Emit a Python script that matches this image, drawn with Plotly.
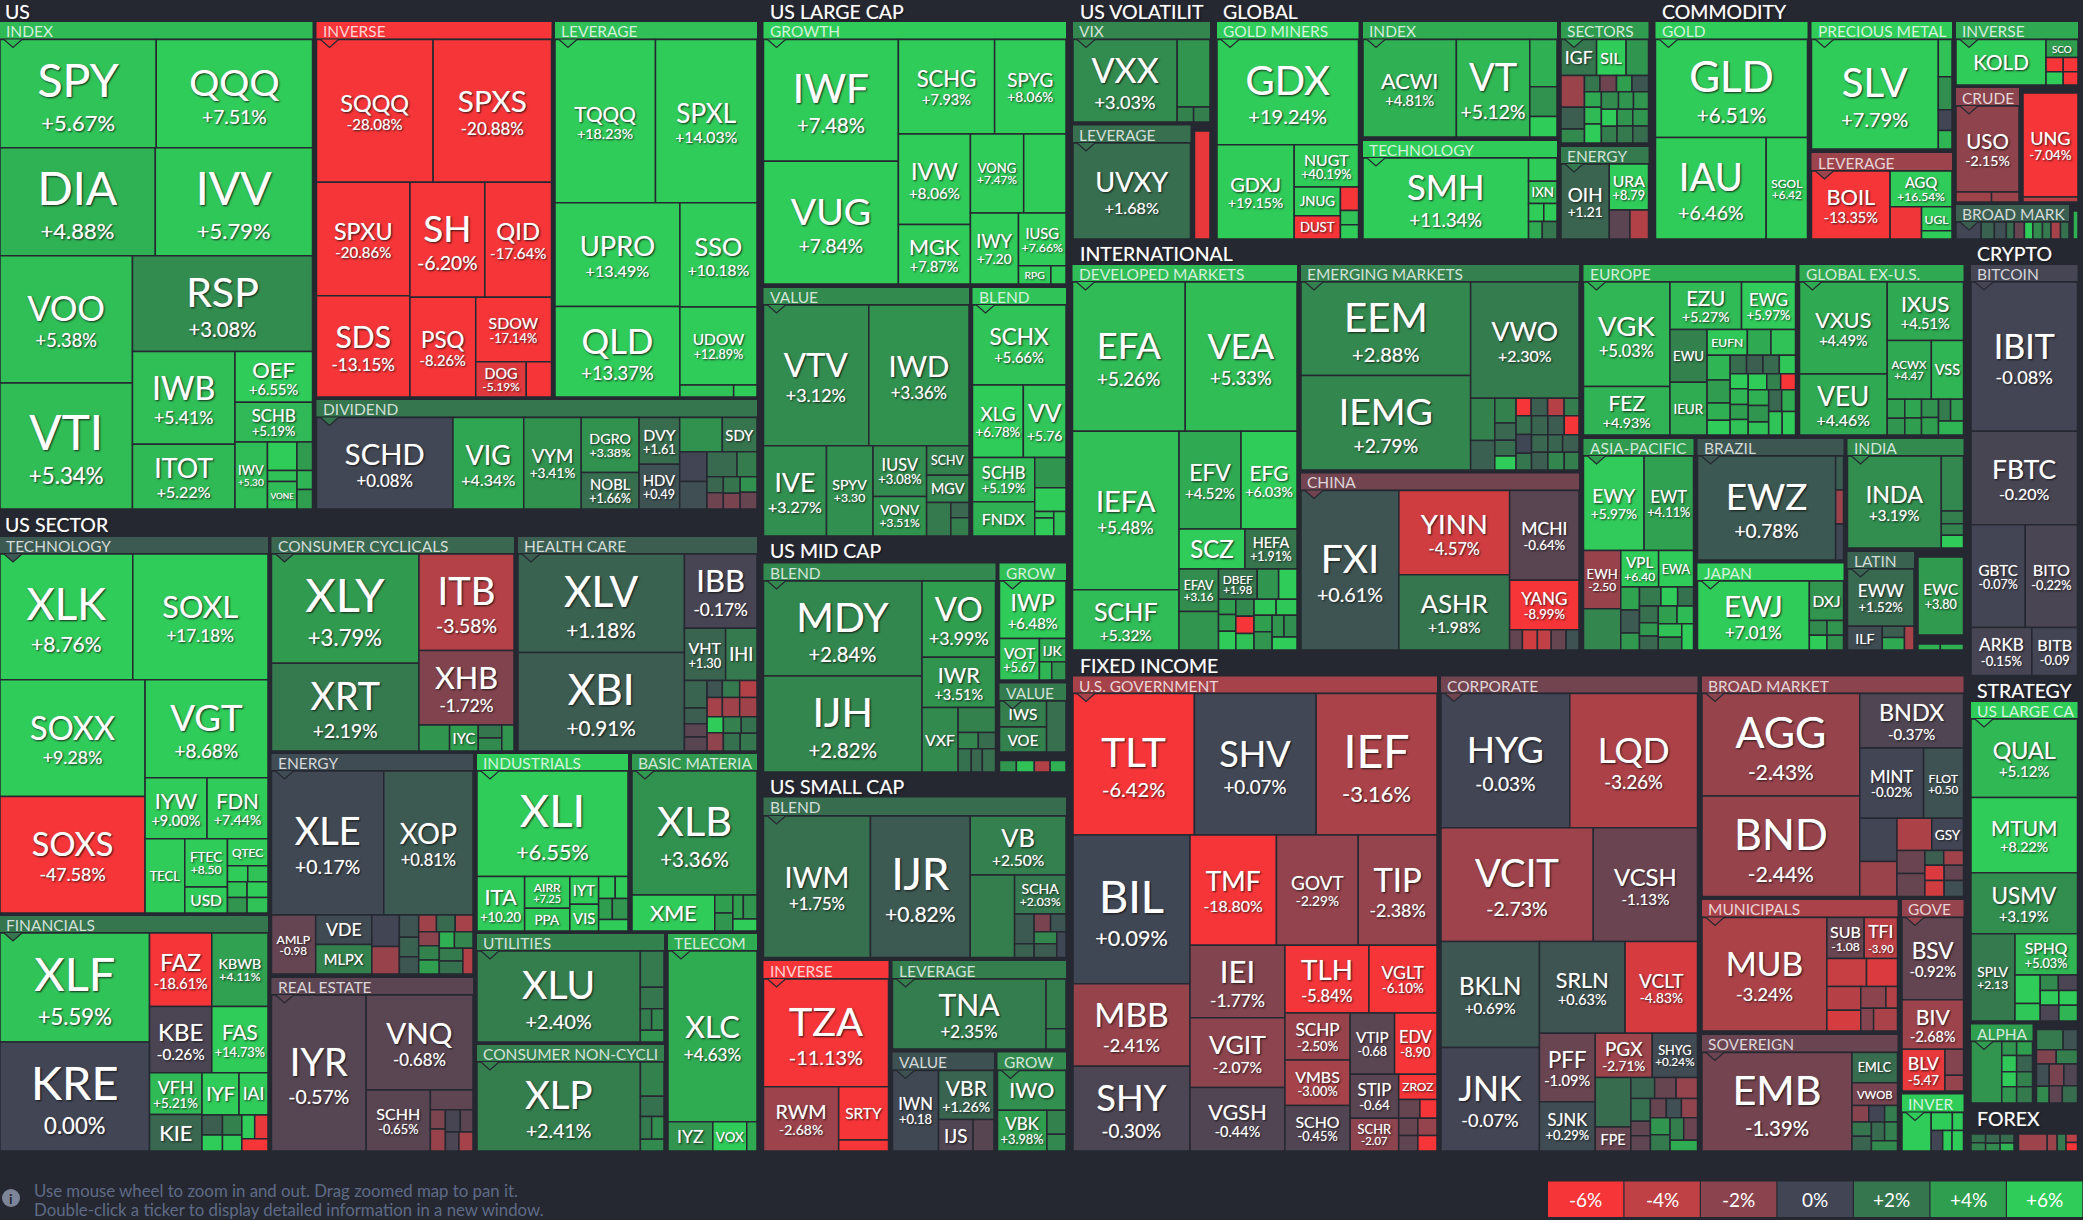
import plotly.graph_objects as go

W, H = 2083, 1220
BG = "#252831"
FONT = "Lato"
SCALE_STOPS = [(-6, "#f63538"), (-4, "#bf4045"), (-2, "#8b444e"), (0, "#414554"), (2, "#35764e"), (4, "#2f9e4f"), (6, "#30cc5a")]

# ---------- data: ticker, % change, tile size ----------
us_index_t = ["SPY","QQQ","DIA","IVV","VOO","VTI","RSP","IWB","ITOT","OEF","SCHB","IWV","","","","VONE","",""]
us_index_c = [5.67,7.51,4.88,5.79,5.38,5.34,3.08,5.41,5.22,6.55,5.19,5.30,6.6,3.8,5.5,5.3,5.0,4.0]
us_index_s = [16700,16700,16600,16800,16640,16500,17000,9400,6565,3900,3040,2150,830,440,320,800,290,300]
us_inverse_t = ["SQQQ","SPXS","SPXU","SDS","SH","QID","PSQ","SDOW","DOG",""]
us_inverse_c = [-28.08,-20.88,-20.86,-13.15,-6.20,-17.64,-8.26,-17.14,-5.19,-7]
us_inverse_s = [16350,16600,10400,9290,8440,7520,6435,4790,1750,875]
us_lev_t = ["TQQQ","SPXL","UPRO","QLD","SSO","UDOW","",""]
us_lev_c = [18.23,14.03,13.49,13.37,10.18,12.89,5.6,6]
us_lev_s = [16200,16360,12770,11160,7930,5930,636,276]
us_div_t = ["SCHD","VIG","VYM","DGRO","NOBL","DVY","HDV","","SDY","","","","","","","","","",""]
us_div_c = [0.08,4.34,3.41,3.38,1.66,1.61,0.49,3.4,1.9,0.0,0.4,1.5,2.3,1.4,-1.2,1.9,-1.5,3.4,-1.0]
us_div_s = [12100,6280,5100,3080,2050,1840,1760,1420,1155,783,730,720,480,256,256,272,256,256,272]

tech_t = ["XLK","SOXL","SOXX","SOXS","VGT","IYW","FDN","TECL","FTEC","USD","QTEC","","","","","",""]
tech_c = [8.76,17.18,9.28,-47.58,8.68,9.00,7.44,7,8.50,8.6,6,6,5.5,5.5,3.5,6,5.5]
tech_s = [16400,16700,16600,16600,11800,3720,3660,2890,2020,1090,1070,320,320,300,300,320,320]
cyc_t = ["XLY","XRT","ITB","XHB","","IYC","","",""]
cyc_c = [3.79,2.19,-3.58,-1.72,3.6,4.0,2.0,3.0,3.5]
cyc_s = [15800,12700,9000,6950,780,730,300,300,310]
health_t = ["XLV","XBI","IBB","VHT","IHI"] + [""]*16
health_c = [1.18,0.91,-0.17,1.30,2.2,1.3,1.0,-0.7,-0.6,0.6,2.2,-3.5,-3.0,-2.8,-2.8,6.5,-2.2,2.5,1.8,1.8,2.0]
health_s = [16000,16000,5250,2100,1600,610,350,290,310,255,290,290,285,323,323,255,290,290,255,290,290]
energy_t = ["XLE","XOP","AMLP","VDE","MLPX"] + [""]*16
energy_c = [0.17,0.81,-0.98,0.2,2.6,0.0,-2.5,0.6,1.2,0.7,-2.8,1.5,-3,-2.0,2.6,4.0,4.8,2.8,2.3,1.8,-3.5]
energy_s = [15600,12400,2520,1600,1600,837,730,418,361,323,288,304,288,280,280,280,240,294,294,294,252]
indus_t = ["XLI","ITA","AIRR","PPA","IYT","VIS","","","","",""]
indus_c = [6.55,10.20,7.25,5.9,6.0,6.3,6,6.2,4,3.5,6.5]
indus_s = [15550,2530,1400,1000,780,750,357,273,280,320,330]
basic_t = ["XLB","XME","","","","",""]
basic_c = [3.36,6.2,4,3.6,4,3.5,6.5]
basic_s = [15400,2960,324,324,250,325,288]
fin_t = ["XLF","KRE","FAZ","KBWB","KBE","FAS","VFH","KIE","IYF","IAI","","","","","","",""]
fin_c = [5.59,0.00,-18.61,4.11,-0.26,14.73,5.21,1.4,6,6.3,1.0,6,2.6,6.2,6.5,-5.5,-7]
fin_s = [15900,15900,4460,4030,4030,3640,2130,1870,1520,1190,400,320,380,300,300,310,310]
reit_t = ["IYR","VNQ","SCHH","","","","","","",""]
reit_c = [-0.57,-0.68,-0.65,-0.8,-1.6,-2.5,-0.2,-0.7,-0.3,-3]
reit_s = [14500,9950,3850,830,286,323,323,276,253,264]
util_t = ["XLU","","","","",""]
util_c = [2.40,2.2,2.0,2.3,2.8,3.5]
util_s = [14700,850,500,242,264,275]
cnc_t = ["XLP","","","","",""]
cnc_c = [2.41,2.6,1.8,2.2,3.2,3.0]
cnc_s = [14400,800,475,253,276,275]
telecom_t = ["XLC","IYZ","VOX",""]
telecom_c = [4.63,3.5,6,4.5]
telecom_s = [14700,1270,960,290]

growth_t = ["IWF","VUG","SCHG","SPYG","IVW","MGK","VONG","","IWY","IUSG","RPG",""]
growth_c = [7.48,7.84,7.93,8.06,8.06,7.87,7.47,7.4,7.20,7.66,7,7]
growth_s = [16100,16200,8900,6600,6400,4190,4130,3280,3340,2450,580,270]
value_t = ["VTV","IWD","IVE","SPYV","IUSV","VONV","SCHV","MGV","","",""]
value_c = [3.12,3.36,3.27,3.30,3.08,3.51,2.6,2.8,2.2,1.4,2.4]
value_s = [14460,13760,5550,4100,2650,2070,1220,1130,790,270,324]
blend_t = ["SCHX","XLG","VV","SCHB","FNDX","","","","",""]
blend_c = [5.66,6.78,5.76,5.19,4.8,3.6,6.5,5.5,6.5,5.5]
blend_s = [7300,3600,3020,2700,2080,930,720,120,336,294]

mid_blend_t = ["MDY","IJH","VO","IWR","VXF","","","","","",""]
mid_blend_c = [2.84,2.82,3.99,3.51,3.0,2.6,2.8,1.6,1.8,1.4,1.7]
mid_blend_s = [14760,14900,5480,3630,2275,912,320,272,300,253,300]
mid_grow_t = ["IWP","VOT","IJK","",""]
mid_grow_c = [6.48,5.67,4.5,5,3.5]
mid_grow_s = [3680,1600,600,216,250]
mid_value_t = ["IWS","VOE",""]
mid_value_c = [2.4,2.6,1.7]
mid_value_s = [1200,1150,970]
mid_other_t = ["","","",""]
mid_other_c = [3.6,5.5,-3.5,4.8]
mid_other_s = [176,187,165,165]

small_blend_t = ["IWM","IJR","VB","","SCHA","","","","","","",""]
small_blend_c = [1.75,0.82,2.50,2.4,2.03,0.8,1.2,-1.5,0.6,2.8,0.9,0.1]
small_blend_s = [14900,13900,5570,3600,1970,570,266,288,270,264,308,234]
small_inv_t = ["TZA","RWM","SRTY",""]
small_inv_c = [-11.13,-2.68,-8,-8]
small_inv_s = [13250,4740,2600,540]
small_lev_t = ["TNA","",""]
small_lev_c = [2.35,2.4,2.6]
small_lev_s = [10640,980,400]
small_value_t = ["IWN","VBR","IJS",""]
small_value_c = [0.18,1.26,-0.4,-0.6]
small_value_s = [3600,2640,1056,640]
small_grow_t = ["IWO","VBK","",""]
small_grow_c = [3.3,3.98,2.6,2.9]
small_grow_s = [2584,1920,437,304]

vix_t = ["VXX","","",""]
vix_c = [3.03,3.5,2.6,2.4]
vix_s = [8450,2180,240,240]
vol_lev_t = ["UVXY"]
vol_lev_c = [1.68]
vol_lev_s = [11200]
vol_other_t = [""]
vol_other_c = [-5.5]
vol_other_s = [1700]

miners_t = ["GDX","GDXJ","NUGT","JNUG","DUST","","",""]
miners_c = [19.24,19.15,40.19,30,-30,-6.5,5.5,6]
miners_s = [14600,7125,2665,1300,1050,414,252,252]
gl_index_t = ["ACWI","VT","","",""]
gl_index_c = [4.81,5.12,4.8,3.4,6.2]
gl_index_s = [8970,7050,1265,800,550]
gl_tech_t = ["SMH","","IXN","","","",""]
gl_tech_c = [11.34,6,5.5,6,6,4.5,2.0]
gl_tech_s = [13200,650,620,270,234,238,255]
gl_sect_t = ["IGF","SIL"] + [""]*20
gl_sect_c = [2.0,7,3.6,-2.6,1.0,3.0,2.0,-1.2,4,0.7,4.5,5.2,6.5,3.0,3.6,3.5,6,2.4,3.6,3.6,2.2,1.6]
gl_sect_s = [1155,957,726,672,462,294,225,240,225,240,238,255,289,272,238,238,238,238,238,238,240,240]
gl_energy_t = ["OIH","URA","",""]
gl_energy_c = [1.21,8.79,-0.7,-3.5]
gl_energy_s = [3525,1760,580,522]

gold_t = ["GLD","IAU","SGOL"]
gold_c = [6.51,6.46,6.42]
gold_s = [14750,11100,4140]
prec_t = ["SLV","","","",""]
prec_c = [7.79,5.5,3.2,0.0,5.0]
prec_s = [13750,504,448,280,252]
com_lev_t = ["BOIL","AGQ","","UGL",""]
com_lev_c = [-13.35,16.54,-5.8,13,6]
com_lev_s = [5236,2170,992,713,248]
com_inv_t = ["KOLD","SCO","","","",""]
com_inv_c = [12,4,-7,6,-7,-7]
com_inv_s = [4000,561,238,224,204,192]
crude_t = ["USO","",""]
crude_c = [-2.15,-2.8,-2.6]
crude_s = [5375,350,270]
ung_t = ["UNG",""]
ung_c = [-7.04,-3.8]
ung_s = [5610,275]
com_broad_t = [""]*10
com_broad_c = [0.0,1.2,0.4,1.6,-1,6,3,2.2,-3,1.8]
com_broad_s = [357,187,170,112,144,120,136,120,136,120]
com_sliver_t = [""]
com_sliver_c = [4.8]
com_sliver_s = [140]

dev_t = ["EFA","VEA","IEFA","SCHF","EFV","EFG","SCZ","HEFA","EFAV","","DBEF"] + [""]*15
dev_c = [5.26,5.33,5.48,5.32,4.52,6.03,6,1.91,3.16,3.5,1.98,3.6,6,4,4,6.3,3.0,-6,5.5,5.8,5.8,4.0,3.5,3.6,3.3,6]
dev_s = [16350,16200,16430,6240,5890,5320,2570,2030,1630,1480,1140,630,540,255,285,315,300,306,290,342,323,289,323,253,276,312]
emg_t = ["EEM","IEMG","VWO"] + [""]*22
emg_c = [2.88,2.79,2.30,2.6,1.1,2.6,1.4,1.6,6.6,-7,1.0,-3.6,2.3,1.7,0.1,2.0,1.3,0.9,-7,1.4,1.0,1.3,1.0,2.8,2.4]
emg_s = [15360,15530,12200,990,690,510,357,323,289,255,280,280,252,280,280,252,300,300,270,280,280,252,280,280,252]
china_t = ["FXI","YINN","ASHR","MCHI","YANG","","","","",""]
china_c = [0.61,-4.57,1.98,-0.64,-8.99,-0.9,-4.6,-4.0,-1.0,0.5]
china_s = [15260,9130,8140,6090,3360,252,294,273,294,252]
europe_t = ["VGK","FEZ","EZU","EWG","EWU","IEUR","EUFN"] + [""]*24
europe_c = [5.03,4.93,5.27,5.97,2.6,4.6,5.8,4.5,5.5,5,3.9,4.8,6.3,1.6,1.0,1.5,5.8,6.5,5.0,4.0,5.5,6,2.6,-7,4.8,3.6,5.5,1.4,4.6,5.6,6]
europe_s = [8550,3980,3210,2420,1855,1855,984,576,600,540,504,378,323,289,289,289,285,255,270,255,266,280,210,224,304,320,252,270,285,300,294]
exus_t = ["VXUS","VEU","IXUS","ACWX","VSS"] + [""]*9
exus_c = [4.49,4.46,4.51,4.47,5,4,3.6,4.3,4.0,3.4,4,2.3,3.9,5]
exus_s = [7800,5160,4310,2500,1820,323,285,304,276,299,289,255,272,338]
asia_t = ["EWY","EWT","EWH","","VPL","EWA"] + [""]*14
asia_c = [5.97,4.11,-2.50,2.8,6.40,6,4.2,0.8,3.7,2.2,6,1.8,1.7,3.7,1.4,4,5.2,5.5,2.6,6]
asia_s = [5520,4500,2090,1476,1330,1225,414,414,306,391,306,289,300,240,255,320,280,308,286,297]
brazil_t = ["EWZ","","",""]
brazil_c = [0.78,1.0,-2.6,0.1]
brazil_s = [14250,264,264,280]
japan_t = ["EWJ","DXJ","","","",""]
japan_c = [7.01,3.5,3.0,6.2,3.5,3.4]
japan_s = [7590,1330,255,255,238,238]
india_t = ["INDA","","","",""]
india_c = [3.19,2.9,2.4,2.6,6.2]
india_s = [8460,1196,276,253,276]
latin_t = ["EWW","ILF","","",""]
latin_c = [1.52,0.3,1.0,4.5,-3]
latin_s = [3630,792,242,264,216]
ewc_t = ["EWC"]
ewc_c = [3.80]
ewc_s = [3588]
latin_sliver_t = ["",""]
latin_sliver_c = [4.8,4.8]
latin_sliver_s = [130,135]

btc_t = ["IBIT","FBTC","GBTC","BITO","ARKB","BITB"]
btc_c = [-0.08,-0.20,-0.07,-0.22,-0.15,-0.09]
btc_s = [15700,9840,5500,5300,2880,2160]

gov_t = ["TLT","SHV","IEF","BIL","MBB","SHY","TMF","GOVT","TIP","IEI","VGIT","VGSH","TLH","VGLT","SCHP","VMBS","SCHO","VTIP","EDV","STIP","SCHR","ZROZ","","","","","",""]
gov_c = [-6.42,0.07,-3.16,0.09,-2.41,-0.30,-18.80,-2.29,-2.38,-1.77,-2.07,-0.44,-5.84,-6.10,-2.50,-3.00,-0.45,-0.68,-8.90,-0.64,-2.07,-7,-1.0,-7,-1,-0.8,-2.4,-7]
gov_s = [16700,16750,16620,16900,9390,9620,9240,8750,8420,6700,6420,5860,5540,4490,2980,2880,2880,2640,2520,2070,1550,936,390,315,320,288,320,288]
corp_t = ["HYG","LQD","VCIT","VCSH","BKLN","JNK","SRLN","VCLT","PFF","SJNK","PGX","SHYG","","FPE"] + [""]*14
corp_c = [-0.03,-3.26,-2.73,-1.13,0.69,-0.07,0.63,-4.83,-1.09,0.29,-2.71,0.24,1.6,-1,1.3,-1,-2.4,1.8,-0.8,-0.8,-1.0,0.4,-2.2,3.6,2.2,2.4,-1.1,4.6]
corp_s = [16640,16500,16640,11390,10040,9810,7570,6400,3670,2650,2420,1920,1700,820,480,432,432,432,270,288,297,283,300,320,308,294,297,283]
broad_t = ["AGG","BND","BNDX","MINT","FLOT","","","","GSY","","","","","","","",""]
broad_c = [-2.43,-2.44,-0.37,-0.02,0.50,0.0,-2.6,-3.3,0.0,-1.1,-1.0,1.0,-2.8,-5,-4.6,-0.9,0.4]
broad_s = [15650,15340,5460,4350,2720,1550,1260,1085,990,621,621,266,280,285,300,285,300]
muni_t = ["MUB","SUB","TFI","","","","","","","",""]
muni_c = [-3.24,-1.08,-3.90,-4.3,-5.0,-3.6,-4.8,-2.0,-3.5,-1.8,-3.2]
muni_s = [13560,1463,1309,1066,832,768,672,520,240,280,520]
sov_t = ["EMB","EMLC","VWOB","","","","","","","",""]
sov_c = [-1.39,1.6,-1.4,-1.9,0.0,2.3,2.0,1.3,1.5,2.5,3.0]
sov_s = [14450,1344,1008,272,256,208,272,280,243,238,260]
gove_t = ["BSV","BIV","BLV","",""]
gove_c = [-0.92,-2.68,-5.47,-1.8,-2.4]
gove_s = [4960,2976,1764,475,285]
inver_t = ["","","","","",""]
inver_c = [6.5,6.2,6.3,0.0,6.3,6.4]
inver_s = [1053,357,187,220,180,220]

strat_t = ["QUAL","MTUM","USMV","SPLV","SPHQ","","","","","","","",""]
strat_c = [5.12,8.22,3.19,2.13,5.03,6.3,5.8,3.0,-0.3,6,-0.3,6,5]
strat_s = [8130,7810,6310,3740,2520,696,432,270,285,270,285,270,285]
alpha_t = [""]*9
alpha_c = [3.5,3.6,4.0,5.8,1.2,6.0,2.6,3.6,2.2]
alpha_s = [1770,195,208,225,240,210,224,225,240]
strat_other_t = [""]*10
strat_other_c = [2.2,0.5,-1.7,2.4,0.4,3.0,-1.5,-0.4,-0.8,1.6]
strat_other_s = [494,266,260,280,260,195,294,273,208,240]
fx_a_t = [""]*6
fx_a_c = [1.8,2.6,1.4,3.0,1.6,5.0]
fx_a_s = [119,112,126,104,117,102]
fx_b_t = [""]*5
fx_b_c = [-2.7,-2.6,2.2,-3.7,-7]
fx_b_s = [442,153,136,88,88]

# tickers printed with a bare number, and tickers printed with no number at all
BARE_VALUE = ["IWV","DVY","HDV","FTEC","VHT","AMLP","ITA","AIRR","IWY","SPYV","VV","VOT","IWN","OIH","URA","SGOL",
              "EFAV","DBEF","ACWX","EWH","VPL","EWC","BITB","VTIP","EDV","STIP","SCHR","FLOT","SUB","TFI","BLV","SPLV"]
TICKER_ONLY = ["VONE","SDY","TECL","USD","QTEC","IYC","IHI","VDE","MLPX","PPA","IYT","VIS","XME","IYF","IAI","KIE","IYZ","VOX",
               "RPG","SCHV","MGV","FNDX","VXF","IJK","IWS","VOE","SRTY","IJS","IWO","JNUG","DUST","IXN","IGF","SIL","UGL","KOLD",
               "SCO","SCZ","EWU","IEUR","EUFN","VSS","EWA","DXJ","ILF","ZROZ","FPE","GSY","EMLC","VWOB"]

LEGEND_LABELS = ["-6%","-4%","-2%","0%","+2%","+4%","+6%"]
LEGEND_VALUES = [-6,-4,-2,0,2,4,6]

# ---------- layout tables (pixels of the page) ----------
TITLES = [("US",3,11.5),("US SECTOR",3,524),("US LARGE CAP",768,11.5),("US MID CAP",768,551),("US SMALL CAP",768,786),
          ("US VOLATILIT",1078,11.5),("GLOBAL",1221,11.5),("COMMODITY",1660,11.5),("INTERNATIONAL",1078,254),
          ("FIXED INCOME",1078,665.5),("CRYPTO",1975,254),("STRATEGY",1975,690.5),("FOREX",1975,1118)]

PANELS = [
 ("INDEX",0,22,312.5,509,39.5,5.2,us_index_t,us_index_c,us_index_s),
 ("INVERSE",316.5,22,551.5,397,39.5,-6.5,us_inverse_t,us_inverse_c,us_inverse_s),
 ("LEVERAGE",555,22,757,397,39.5,5.5,us_lev_t,us_lev_c,us_lev_s),
 ("DIVIDEND",316.5,400,757,509,417.5,2,us_div_t,us_div_c,us_div_s),
 ("TECHNOLOGY",0,537,268,913,554,0.8,tech_t,tech_c,tech_s),
 ("CONSUMER CYCLICALS",271.5,537,514,751,554,1.4,cyc_t,cyc_c,cyc_s),
 ("HEALTH CARE",518,537,757,751,554,1.0,health_t,health_c,health_s),
 ("ENERGY",271.5,754,473,974,771,0.3,energy_t,energy_c,energy_s),
 ("INDUSTRIALS",477,754,628,931,771,6,indus_t,indus_c,indus_s),
 ("BASIC MATERIA",632,754,757,931,771,3.7,basic_t,basic_c,basic_s),
 ("FINANCIALS",0,916,268,1151,933,2,fin_t,fin_c,fin_s),
 ("REAL ESTATE",271.5,978,473,1151,995,-0.7,reit_t,reit_c,reit_s),
 ("UTILITIES",477,934,664,1042,951,2.6,util_t,util_c,util_s),
 ("CONSUMER NON-CYCLI",477,1045,664,1151,1062,2.5,cnc_t,cnc_c,cnc_s),
 ("TELECOM",668,934,757,1151,951,4.6,telecom_t,telecom_c,telecom_s),
 ("GROWTH",763.5,22,1066,284,39.5,7,growth_t,growth_c,growth_s),
 ("VALUE",763.5,288,969,536,305,3,value_t,value_c,value_s),
 ("BLEND",972.5,288,1066,536,305,5.6,blend_t,blend_c,blend_s),
 ("BLEND",763.5,563.5,995.5,772,581,2.9,mid_blend_t,mid_blend_c,mid_blend_s),
 ("GROW",999.5,563.5,1066,680,581,5.5,mid_grow_t,mid_grow_c,mid_grow_s),
 ("VALUE",999.5,683.5,1066,752,701,2.3,mid_value_t,mid_value_c,mid_value_s),
 (None,999.5,760.5,1066,772,760.5,0,mid_other_t,mid_other_c,mid_other_s),
 ("BLEND",763.5,797.5,1066,957.5,816,1.6,small_blend_t,small_blend_c,small_blend_s),
 ("INVERSE",763.5,961,888.5,1151,979,-7,small_inv_t,small_inv_c,small_inv_s),
 ("LEVERAGE",892.5,961,1066,1049,979,2.4,small_lev_t,small_lev_c,small_lev_s),
 ("VALUE",892.5,1052.5,994,1151,1070.5,0.5,small_value_t,small_value_c,small_value_s),
 ("GROW",997.5,1052.5,1066,1151,1070.5,3,small_grow_t,small_grow_c,small_grow_s),
 ("VIX",1073,22,1210,122,39.5,2.8,vix_t,vix_c,vix_s),
 ("LEVERAGE",1073,125.5,1190.5,239,143,1.7,vol_lev_t,vol_lev_c,vol_lev_s),
 (None,1194.5,131,1210,239,131,0,vol_other_t,vol_other_c,vol_other_s),
 ("GOLD MINERS",1217,22,1358.5,239,39.5,7,miners_t,miners_c,miners_s),
 ("INDEX",1363,22,1557,137,39.5,4.6,gl_index_t,gl_index_c,gl_index_s),
 ("TECHNOLOGY",1363,141,1557,239,158,6.5,gl_tech_t,gl_tech_c,gl_tech_s),
 ("SECTORS",1561,22,1648.5,143,39.5,3.9,gl_sect_t,gl_sect_c,gl_sect_s),
 ("ENERGY",1561,147,1648.5,239,164,2.2,gl_energy_t,gl_energy_c,gl_energy_s),
 ("GOLD",1655.5,22,1807.5,239,39.5,6.5,gold_t,gold_c,gold_s),
 ("PRECIOUS METAL",1811.5,22,1952,149,39.5,7,prec_t,prec_c,prec_s),
 ("LEVERAGE",1811.5,153,1952,239,171,-2.7,com_lev_t,com_lev_c,com_lev_s),
 ("INVERSE",1956,22,2078,85,39.5,4.5,com_inv_t,com_inv_c,com_inv_s),
 ("CRUDE",1956,88,2019,202,106,-2.0,crude_t,crude_c,crude_s),
 (None,2023,93,2078,202,93,0,ung_t,ung_c,ung_s),
 ("BROAD MARK",1956,205,2069,239,222,1.0,com_broad_t,com_broad_c,com_broad_s),
 (None,2073,211,2078,239,211,0,com_sliver_t,com_sliver_c,com_sliver_s),
 ("DEVELOPED MARKETS",1072.5,265,1297,650,282,5.3,dev_t,dev_c,dev_s),
 ("EMERGING MARKETS",1301,265,1579,470,282,2.5,emg_t,emg_c,emg_s),
 ("CHINA",1301,473.5,1579,650,490.5,-1.3,china_t,china_c,china_s),
 ("EUROPE",1583.5,265,1795.5,435,282,4.8,europe_t,europe_c,europe_s),
 ("GLOBAL EX-U.S.",1799.5,265,1963.5,435,282,4.5,exus_t,exus_c,exus_s),
 ("ASIA-PACIFIC",1583.5,439,1693.5,650,456,3.8,asia_t,asia_c,asia_s),
 ("BRAZIL",1697.5,439,1843.5,560,456,0.7,brazil_t,brazil_c,brazil_s),
 ("JAPAN",1697.5,563.5,1843.5,650,581,6.8,japan_t,japan_c,japan_s),
 ("INDIA",1847.5,439,1963.5,548,456,3,india_t,india_c,india_s),
 ("LATIN",1847.5,552,1914,650,569,1.2,latin_t,latin_c,latin_s),
 (None,1918,557,1963.5,635,557,0,ewc_t,ewc_c,ewc_s),
 (None,1918,644,1963.5,650,644,0,latin_sliver_t,latin_sliver_c,latin_sliver_s),
 ("BITCOIN",1971,265,2077.5,675.5,282,-0.1,btc_t,btc_c,btc_s),
 ("U.S. GOVERNMENT",1073,676.5,1437,1151,693.5,-3,gov_t,gov_c,gov_s),
 ("CORPORATE",1441,676.5,1697.5,1151,693.5,-1.3,corp_t,corp_c,corp_s),
 ("BROAD MARKET",1702,676.5,1963.5,896.5,693.5,-2,broad_t,broad_c,broad_s),
 ("MUNICIPALS",1702,900,1897.5,1031,917.5,-3.2,muni_t,muni_c,muni_s),
 ("SOVEREIGN",1702,1035,1897.5,1151,1052.5,-1.1,sov_t,sov_c,sov_s),
 ("GOVE",1902,900,1963.5,1091,917.5,-2.4,gove_t,gove_c,gove_s),
 ("INVER",1902,1094.5,1963.5,1151,1112.5,6.5,inver_t,inver_c,inver_s),
 ("US LARGE CA",1971,702,2077.5,1021,719,6,strat_t,strat_c,strat_s),
 ("ALPHA",1971,1024.5,2032.5,1103,1041.5,4,alpha_t,alpha_c,alpha_s),
 (None,2036.5,1029.5,2077.5,1103,1029.5,0,strat_other_t,strat_other_c,strat_other_s),
 (None,1971,1134,2014,1151,1134,0,fx_a_t,fx_a_c,fx_a_s),
 (None,2018.5,1134,2077.5,1151,1134,0,fx_b_t,fx_b_c,fx_b_s),
]

# ---------- helpers ----------
def hex2rgb(h):
    return tuple(int(h[i:i+2], 16) for i in (1, 3, 5))

def color_of(v):
    v = max(-6, min(6, v))
    for (a, ca), (b, cb) in zip(SCALE_STOPS, SCALE_STOPS[1:]):
        if v <= b:
            t = (v - a) / (b - a)
            ra, rb = hex2rgb(ca), hex2rgb(cb)
            return "rgb(%d,%d,%d)" % tuple(round(x + (y - x) * t) for x, y in zip(ra, rb))
    return SCALE_STOPS[-1][1]

COLORSCALE = [[(v + 6) / 12, c] for v, c in SCALE_STOPS]

def tile_dims(values, dx, dy):
    """Tile widths/heights the treemap will produce; used only to pick a font size."""
    out, value, i0, n = [], float(sum(values)), 0, len(values)
    while i0 < n:
        s = mn = mx = values[i0]
        i1 = i0 + 1
        alpha = max(dy / dx, dx / dy) / value
        beta = s * s * alpha
        best = max(mx / beta, beta / mn)
        while i1 < n:
            v = values[i1]
            mn, mx = min(mn, v), max(mx, v)
            beta = (s + v) ** 2 * alpha
            r = max(mx / beta, beta / mn)
            if r > best:
                break
            s += v
            best = r
            i1 += 1
        if dx < dy:
            h = dy * s / value
            out += [(dx * v / s, h) for v in values[i0:i1]]
            dy -= h
        else:
            w = dx * s / value
            out += [(w, dy * v / s) for v in values[i0:i1]]
            dx -= w
        value -= s
        i0 = i1
    return out

EM = {"I": .36, "J": .46, "M": .9, "W": 1.0, "O": .8, "Q": .8, "G": .72, "D": .75, "V": .68, "A": .68, "C": .66, "H": .74, "N": .74, "U": .72}

def tile_text(tk, ch, w, h):
    if not tk:
        return "", 10
    em = sum(EM.get(c, .6) for c in tk)
    only = tk in TICKER_ONLY
    frac = min(.85, .5 + 12 / max(w, 1))
    f = min(frac * w / em, (.6 if only else .43) * h, 48)
    f = max(f, 7)
    if only:
        return f'<span style="font-size:{f:.1f}px">{tk}</span>', f * .7
    if tk in BARE_VALUE:
        val = f"{ch:+.2f}"
    else:
        val = "0.00%" if ch == 0 else f"{ch:+.2f}%"
    p = min(.3 * f + 8, .85 * w / (len(val) * .52))
    return f'<span style="font-size:{f:.1f}px">{tk}</span><br><span style="font-size:{p:.1f}px">{val}</span>', .47 * f + .16 * p + .8

px = lambda x: x / W
py = lambda y: 1 - y / H

fig = go.Figure()
shapes, notes = [], []

for name, x0, y0, x1, y1, hb, hc, tk, ch, sz in PANELS:
    dims = tile_dims(sz, x1 - x0, y1 - hb)
    texts, sizes = [""], [10]
    for t, c, (w, h) in zip(tk, ch, dims):
        s, f = tile_text(t, c, w, h)
        texts.append(s)
        sizes.append(f)
    ids = ["root"] + [f"t{i}" for i in range(len(tk))]
    fig.add_trace(go.Treemap(
        ids=ids,
        labels=[" "] + [t or " " for t in tk],
        parents=[""] + ["root"] * len(tk),
        values=[0] + sz,
        branchvalues="remainder",
        sort=False,
        text=texts,
        textinfo="text",
        textposition="middle center",
        textfont=dict(family=FONT, color="#ffffff", size=sizes,
                      shadow="0 0 1px rgba(255,255,255,0.55), 1px 1px 2px rgba(0,0,0,0.85)"),
        marker=dict(colors=[0] + ch, colorscale=COLORSCALE, cmin=-6, cmax=6, showscale=False,
                    line=dict(color=BG, width=1.5), pad=dict(t=0, l=0, r=0, b=0)),
        tiling=dict(packing="squarify", squarifyratio=1, pad=0),
        pathbar=dict(visible=False),
        domain=dict(x=[px(x0), px(x1)], y=[py(y1), py(hb)]),
        hoverinfo="skip",
    ))
    if name:
        col = color_of(hc)
        shapes.append(dict(type="rect", xref="paper", yref="paper", x0=px(x0), x1=px(x1), y0=py(hb - .8), y1=py(y0),
                           fillcolor=col, line=dict(width=0), layer="below"))
        shapes.append(dict(type="path", xref="paper", yref="paper", layer="above", fillcolor=col,
                           line=dict(color=BG, width=1.2),
                           path=f"M {px(x0 + 4)} {py(hb)} L {px(x0 + 13)} {py(hb + 8)} L {px(x0 + 22)} {py(hb)}"))
        notes.append(dict(text=name, xref="paper", yref="paper", x=px(x0 + 4), y=py((y0 + hb) / 2 + .5), xanchor="left",
                          yanchor="middle", showarrow=False,
                          font=dict(family=FONT, size=15.5, color="rgba(255,255,255,0.78)")))

for text, x, y in TITLES:
    notes.append(dict(text=text, xref="paper", yref="paper", x=px(x), y=py(y), xanchor="left", yanchor="middle",
                      showarrow=False, font=dict(family=FONT, size=19.5, color="#ffffff",
                                                 shadow="0 0 1px rgba(255,255,255,0.55), 1px 1px 2px rgba(0,0,0,0.7)")))

# colour legend
for i, (lab, val) in enumerate(zip(LEGEND_LABELS, LEGEND_VALUES)):
    lx0 = 1548 + i * 76.5
    shapes.append(dict(type="rect", xref="paper", yref="paper", x0=px(lx0), x1=px(lx0 + 75.3), y0=py(1217), y1=py(1181.5),
                       fillcolor=color_of(val), line=dict(width=0), layer="below"))
    notes.append(dict(text=lab, xref="paper", yref="paper", x=px(lx0 + 37.6), y=py(1199.5), xanchor="center", yanchor="middle",
                      showarrow=False, font=dict(family=FONT, size=19, color="#ffffff")))

# help text
HELP_COLOR = "#5f6b86"
notes.append(dict(text="Use mouse wheel to zoom in and out. Drag zoomed map to pan it.", xref="paper", yref="paper", x=px(32), y=py(1190),
                  xanchor="left", yanchor="middle", showarrow=False, font=dict(family=FONT, size=16.8, color=HELP_COLOR)))
notes.append(dict(text="Double-click a ticker to display detailed information in a new window.", xref="paper", yref="paper", x=px(32), y=py(1209),
                  xanchor="left", yanchor="middle", showarrow=False, font=dict(family=FONT, size=16.8, color=HELP_COLOR)))
shapes.append(dict(type="circle", xref="paper", yref="paper", x0=px(2), x1=px(20), y0=py(1207), y1=py(1189),
                   fillcolor="#7d8699", line=dict(width=0), layer="below"))
notes.append(dict(text="<b>i</b>", xref="paper", yref="paper", x=px(11), y=py(1198), xanchor="center", yanchor="middle",
                  showarrow=False, font=dict(family=FONT, size=14, color=BG)))

fig.update_layout(width=W, height=H, margin=dict(l=0, r=0, t=0, b=0), paper_bgcolor=BG, plot_bgcolor=BG,
                  shapes=shapes, annotations=notes, showlegend=False, font=dict(family=FONT))

fig.write_html("out.html", config=dict(displayModeBar=False),
               post_script="document.body.style.margin='0';document.body.style.background='%s';" % BG)
